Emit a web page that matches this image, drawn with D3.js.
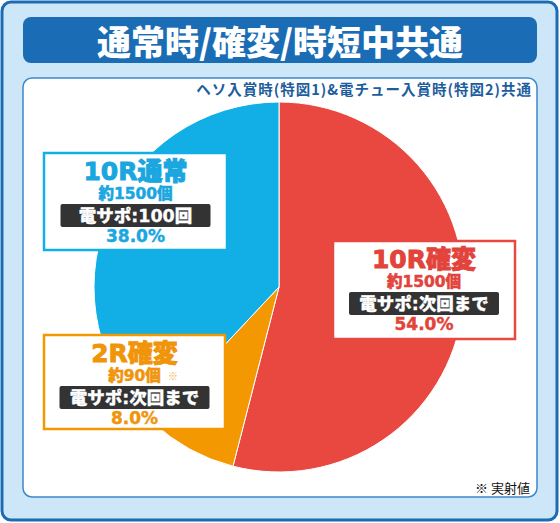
<!DOCTYPE html>
<meta charset="utf-8">
<script src="https://cdn.jsdelivr.net/npm/d3@7"></script>
<head>
  <title>通常時/確変/時短中共通</title>
  <style>
    html, body { margin: 0; padding: 0; background: #fff; }
    svg text { font-family: "DejaVu Sans", "Noto Sans CJK JP", sans-serif; font-weight: 900; }
  </style>
</head>
<body>
<div id="chart"></div>
<script>
  // chart data
  var labels   = ["10R確変", "2R確変", "10R通常"];
  var values   = [54.0, 8.0, 38.0];
  var counts   = ["約1500個", "約90個", "約1500個"];
  var support  = ["電サポ:次回まで", "電サポ:次回まで", "電サポ:100回"];
  var colors   = ["#e8483f", "#f39800", "#12afe6"];
  var txtColor = ["#e2433b", "#f0940a", "#1aa6df"];

  var title    = "通常時/確変/時短中共通";
  var subtitle = "ヘソ入賞時(特図1)&電チュー入賞時(特図2)共通";
  var note     = "※ 実射値";

  var W = 560, H = 523;
  var svg = d3.select("#chart").append("svg")
      .attr("width", W).attr("height", H);

  // outer frame
  svg.append("rect")
      .attr("x", 2).attr("y", 2).attr("width", W - 5).attr("height", H - 5)
      .attr("rx", 9)
      .style("fill", "#cde7f8").style("stroke", "#1a6cb4").style("stroke-width", 3);

  // title bar
  svg.append("rect")
      .attr("x", 23).attr("y", 17).attr("width", 514).attr("height", 46)
      .attr("rx", 8)
      .style("fill", "#1a6cb4");
  svg.append("text")
      .attr("x", 280).attr("y", 55)
      .attr("text-anchor", "middle")
      .style("font-family", "'Noto Sans CJK JP', sans-serif")
      .style("font-size", "34px").style("font-weight", "900")
      .style("fill", "#fff")
      .text(title);

  // white panel
  svg.append("rect")
      .attr("x", 23).attr("y", 78).attr("width", 514).attr("height", 419)
      .attr("rx", 9)
      .style("fill", "#fff").style("stroke", "#3d88c9").style("stroke-width", 1.5);

  svg.append("text")
      .attr("x", 532).attr("y", 95)
      .attr("text-anchor", "end")
      .style("font-family", "'Noto Sans CJK JP', sans-serif")
      .style("font-size", "14.5px").style("font-weight", "bold")
      .style("letter-spacing", "1px")
      .style("fill", "#1d5d9e")
      .text(subtitle);

  // pie
  var cx = 279, cy = 287, r = 185;
  var pie = d3.pie().sort(null).value(d => d);
  var arc = d3.arc().innerRadius(0).outerRadius(r);

  svg.append("g")
      .attr("transform", "translate(" + cx + "," + cy + ")")
      .selectAll("path")
      .data(pie(values))
      .enter()
      .append("path")
      .attr("d", arc)
      .style("fill", (d, i) => colors[i])
      .style("stroke", "#fff")
      .style("stroke-width", 1);

  // label boxes (position of each box)
  var boxes = [
    {x: 333, y: 241, w: 182, h: 98},
    {x: 44,  y: 335, w: 181, h: 94},
    {x: 44,  y: 153, w: 183, h: 97}
  ];

  var lab = svg.append("g").selectAll("g")
      .data(labels)
      .enter()
      .append("g")
      .attr("transform", (d, i) => "translate(" + boxes[i].x + "," + boxes[i].y + ")");

  lab.append("rect")
      .attr("width", (d, i) => boxes[i].w)
      .attr("height", (d, i) => boxes[i].h)
      .style("fill", "#fff")
      .style("stroke", (d, i) => colors[i])
      .style("stroke-width", 2.5);

  // heavier coloured text: a thin stroke of the same colour
  lab.append("text")
      .attr("x", (d, i) => boxes[i].w / 2)
      .attr("y", 27)
      .attr("text-anchor", "middle")
      .style("font-size", "25px")
      .style("fill", (d, i) => txtColor[i])
      .style("stroke", (d, i) => txtColor[i])
      .style("stroke-width", 0.9)
      .text(d => d);

  lab.append("text")
      .attr("x", (d, i) => boxes[i].w / 2)
      .attr("y", 46)
      .attr("text-anchor", "middle")
      .style("font-size", "15.5px")
      .style("fill", (d, i) => txtColor[i])
      .style("stroke", (d, i) => txtColor[i])
      .style("stroke-width", 0.5)
      .text((d, i) => counts[i]);

  // small ※ after the 2R count
  svg.append("text")
      .attr("x", boxes[1].x + 124).attr("y", boxes[1].y + 45)
      .style("font-family", "'Noto Sans CJK JP', sans-serif")
      .style("font-size", "10px").style("font-weight", "normal")
      .style("fill", "#f5b04a")
      .text("※");

  lab.append("rect")
      .attr("x", (d, i) => boxes[i].w / 2 - 75)
      .attr("y", 51)
      .attr("width", 150).attr("height", 23)
      .attr("rx", 2)
      .style("fill", "#333");

  lab.append("text")
      .attr("x", (d, i) => boxes[i].w / 2)
      .attr("y", 69)
      .attr("text-anchor", "middle")
      .style("font-size", "17.5px")
      .style("fill", "#fff")
      .style("stroke", "#fff")
      .style("stroke-width", 0.3)
      .text((d, i) => support[i]);

  lab.append("text")
      .attr("x", (d, i) => boxes[i].w / 2)
      .attr("y", 89)
      .attr("text-anchor", "middle")
      .style("font-size", "17px")
      .style("fill", (d, i) => txtColor[i])
      .style("stroke", (d, i) => txtColor[i])
      .style("stroke-width", 0.4)
      .text((d, i) => values[i].toFixed(1) + "%");

  // note
  svg.append("text")
      .attr("x", 530).attr("y", 493)
      .attr("text-anchor", "end")
      .style("font-family", "'Noto Sans CJK JP', sans-serif")
      .style("font-size", "13px").style("font-weight", "normal")
      .style("fill", "#111")
      .text(note);
</script>
</body>
</html>
